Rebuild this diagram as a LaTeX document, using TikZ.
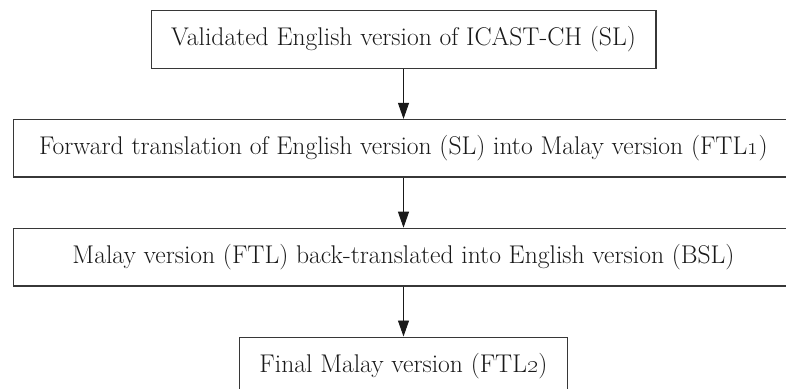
\documentclass[tikz,border=0pt]{standalone}
\usepackage{tikz}
\usetikzlibrary{arrows.meta,positioning}
\definecolor{edgec}{RGB}{55,55,55}
\definecolor{txtc}{RGB}{25,25,25}

\begin{document}
\begin{tikzpicture}[x=1pt,y=1pt,
  stage/.style={draw=edgec,line width=1.3pt,minimum height=57.5pt,inner xsep=20pt,text=txtc,font=\fontsize{25.6}{30}\selectfont},
  wide/.style={stage,minimum width=780pt},
  flow/.style={-{Triangle[length=16pt,width=11pt]},line width=0.9pt,draw=txtc}]
\useasboundingbox (0,0) rectangle (786,-388);
\clip (0,0) rectangle (786,-388);
% --- translation stages, top to bottom ---
\node[stage] (src) at (403.5,-39.5) {Validated English version of ICAST-CH (SL)};
\node[wide,below=50pt of src] (fwd) {Forward translation of English version (SL) into Malay version (FTL\oldstylenums{1})};
\node[wide,below=50pt of fwd] (back) {Malay version (FTL) back-translated into English version (BSL)};
\node[stage,below=50pt of back] (final) {Final Malay version (FTL\oldstylenums{2})};
% --- arrows between stages ---
\draw[flow] (src) -- (fwd);
\draw[flow] (fwd) -- (back);
\draw[flow] (back) -- (final);
\end{tikzpicture}
\end{document}
